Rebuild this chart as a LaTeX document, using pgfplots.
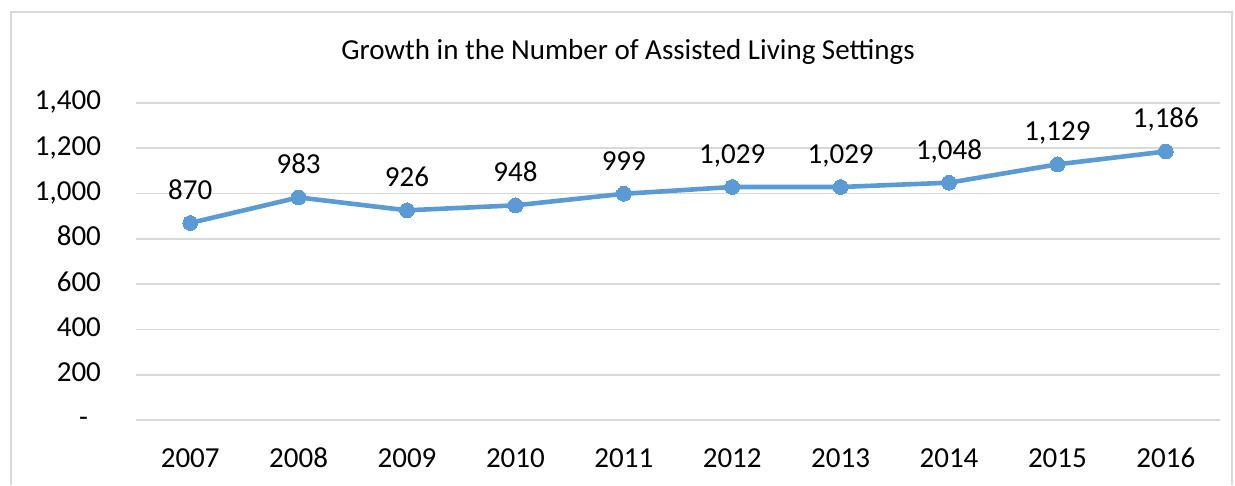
\documentclass[border=0pt]{standalone}
\usepackage{pgfplots}
\pgfplotsset{compat=1.18}
\usepackage{fontspec}
\setmainfont{Carlito}
\definecolor{lineblue}{HTML}{5B9BD5}
\definecolor{gridgray}{HTML}{D9D9D9}
\definecolor{framegray}{HTML}{D9D9D9}
\begin{document}
\begin{tikzpicture}
% page: 1235 x 485 px, 1 px = 0.5pt
\path (0pt,0pt) rectangle (617.5pt,242.5pt);
\draw[framegray, line width=1pt] (5.5pt,0pt) -- (5.5pt,236.5pt) -- (616pt,236.5pt) -- (616pt,0pt);
\node[font=\fontsize{14.5}{16}\selectfont] at (314pt,216.5pt) {Growth in the Number of Assisted Living Settings};
\begin{axis}[
  at={(68pt,32.5pt)}, anchor=south west,
  scale only axis,
  width=542pt, height=158.5pt,
  xmin=-0.5, xmax=9.5,
  ymin=0, ymax=1400,
  xtick={0,...,9},
  xticklabels={2007,2008,2009,2010,2011,2012,2013,2014,2015,2016},
  ytick={0,200,...,1400},
  yticklabels={{-\rule{6.5pt}{0pt}},200,400,600,800,{1,000},{1,200},{1,400}},
  axis line style={draw=none},
  major tick length=0pt,
  ymajorgrids,
  grid style={gridgray, line width=0.8pt},
  ticklabel style={font=\fontsize{14.5}{16}\selectfont, text height=10pt, text depth=3pt},
  yticklabel style={xshift=-14pt},
  xticklabel style={yshift=-10pt},
  clip=false,
  nodes near coords={\pgfmathprintnumber[1000 sep={,},assume math mode=true]{\pgfplotspointmeta}},
  every node near coord/.append style={font=\fontsize{14.5}{16}\selectfont, anchor=south, yshift=5.5pt, text=black, text height=10pt, text depth=3pt},
]
\addplot[lineblue, line width=2.3pt, mark=*, mark size=3.7pt, mark options={fill=lineblue, draw=lineblue, line width=0pt}] coordinates {
  (0,870) (1,983) (2,926) (3,948) (4,999) (5,1029) (6,1029) (7,1048) (8,1129) (9,1186)
};
\end{axis}
\end{tikzpicture}
\end{document}
